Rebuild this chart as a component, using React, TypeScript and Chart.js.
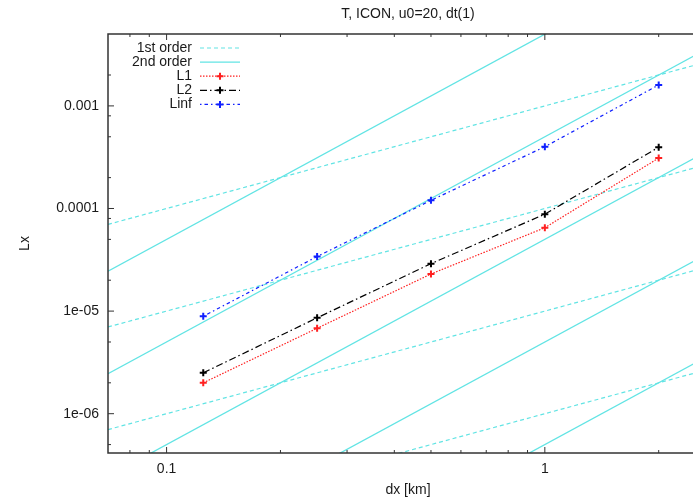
import React, { useEffect, useRef } from "react";
import { Chart, registerables } from "chart.js";

Chart.register(...registerables);

// ---- data ----
const DX = [0.125, 0.25, 0.5, 1, 2];
const L1 = [2.0e-6, 6.8e-6, 2.3e-5, 6.5e-5, 3.1e-4];
const L2 = [2.5e-6, 8.6e-6, 2.9e-5, 8.8e-5, 3.96e-4];
const LINF = [8.9e-6, 3.4e-5, 1.2e-4, 4.0e-4, 1.6e-3];

// reference slopes: c * dx^order
const FIRST_ORDER_COEFS = [1e-3, 1e-4, 1e-5, 1e-6];
const SECOND_ORDER_COEFS = [5e-3, 5e-4, 5e-5, 5e-6, 5e-7];

const X_RANGE = [0.07, 2.7];
const Y_RANGE = [4.14e-7, 5.02e-3];

const X_MAJOR = [0.1, 1];
const X_MAJOR_LABELS = ["0.1", "1"];
const X_MINOR = [0.08, 0.09, 0.2, 0.3, 0.4, 0.5, 0.6, 0.7, 0.8, 0.9, 2];
const Y_MAJOR = [1e-3, 1e-4, 1e-5, 1e-6];
const Y_MAJOR_LABELS = ["0.001", "0.0001", "1e-05", "1e-06"];
const Y_MINOR = [2e-3, 8e-4, 5e-4, 2e-4, 8e-5, 5e-5, 2e-5, 5e-6, 2e-6, 5e-7];

const TITLE = "T, ICON, u0=20, dt(1)";
const X_TITLE = "dx [km]";
const Y_TITLE = "Lx";

const FONT = '14px "Liberation Sans", Arial, sans-serif';
const CYAN = "#62e4e4";
const TEXT = "#1a1a1a";

const SERIES = [
  { label: "L1", data: L1, color: "#ff2020", dash: [1.5, 1.5] },
  { label: "L2", data: L2, color: "#000000", dash: [7, 3, 1.5, 3] },
  { label: "Linf", data: LINF, color: "#1020ff", dash: [1.5, 3, 3.5, 3] },
];

const LEGEND = [
  { label: "1st order", color: CYAN, dash: [4, 3], marker: false },
  { label: "2nd order", color: CYAN, dash: [], marker: false },
  ...SERIES.map((s) => ({ label: s.label, color: s.color, dash: s.dash, marker: true })),
];

function drawCross(ctx: CanvasRenderingContext2D, x: number, y: number, r: number) {
  ctx.beginPath();
  ctx.moveTo(x - r, y);
  ctx.lineTo(x + r, y);
  ctx.moveTo(x, y - r);
  ctx.lineTo(x, y + r);
  ctx.stroke();
}

const framePlugin = {
  id: "gnuframe",
  afterDatasetsDraw(chart: any) {
    const { ctx, chartArea, scales } = chart;
    const { left, right, top, bottom } = chartArea;
    const xs = scales.x;
    const ys = scales.y;
    ctx.save();
    ctx.setLineDash([]);
    ctx.strokeStyle = "#333";
    ctx.lineWidth = 1.5;
    ctx.strokeRect(left, top, right - left, bottom - top);

    ctx.lineWidth = 1;
    X_MAJOR.forEach((v) => {
      const px = xs.getPixelForValue(v);
      ctx.beginPath();
      ctx.moveTo(px, bottom);
      ctx.lineTo(px, bottom - 6);
      ctx.moveTo(px, top);
      ctx.lineTo(px, top + 6);
      ctx.stroke();
    });
    X_MINOR.forEach((v) => {
      const px = xs.getPixelForValue(v);
      ctx.beginPath();
      ctx.moveTo(px, bottom);
      ctx.lineTo(px, bottom - 3);
      ctx.moveTo(px, top);
      ctx.lineTo(px, top + 3);
      ctx.stroke();
    });
    Y_MAJOR.forEach((v) => {
      const py = ys.getPixelForValue(v);
      ctx.beginPath();
      ctx.moveTo(left, py);
      ctx.lineTo(left + 6, py);
      ctx.moveTo(right, py);
      ctx.lineTo(right - 6, py);
      ctx.stroke();
    });
    Y_MINOR.forEach((v) => {
      const py = ys.getPixelForValue(v);
      ctx.beginPath();
      ctx.moveTo(left, py);
      ctx.lineTo(left + 3, py);
      ctx.moveTo(right, py);
      ctx.lineTo(right - 3, py);
      ctx.stroke();
    });

    ctx.fillStyle = TEXT;
    ctx.font = FONT;
    ctx.textBaseline = "middle";
    ctx.textAlign = "center";
    X_MAJOR.forEach((v, i) => {
      ctx.fillText(X_MAJOR_LABELS[i], xs.getPixelForValue(v), bottom + 16);
    });
    ctx.textAlign = "right";
    Y_MAJOR.forEach((v, i) => {
      ctx.fillText(Y_MAJOR_LABELS[i], left - 9, ys.getPixelForValue(v));
    });

    const cx = (left + right) / 2;
    ctx.textAlign = "center";
    ctx.fillText(TITLE, cx, 14);
    ctx.fillText(X_TITLE, cx, bottom + 37);
    ctx.save();
    ctx.translate(25, (top + bottom) / 2);
    ctx.rotate(-Math.PI / 2);
    ctx.fillText(Y_TITLE, 0, 0);
    ctx.restore();

    // legend
    LEGEND.forEach((item, i) => {
      const yy = top + 14 + i * 14.1;
      ctx.fillStyle = TEXT;
      ctx.textAlign = "right";
      ctx.fillText(item.label, left + 84, yy);
      ctx.strokeStyle = item.color;
      ctx.lineWidth = 1.2;
      ctx.setLineDash(item.dash);
      ctx.beginPath();
      ctx.moveTo(left + 92, yy);
      ctx.lineTo(left + 132, yy);
      ctx.stroke();
      ctx.setLineDash([]);
      if (item.marker) {
        ctx.lineWidth = 2;
        drawCross(ctx, left + 112, yy, 3.5);
      }
    });
    ctx.restore();
  },
};

export default function App() {
  const ref = useRef<HTMLCanvasElement>(null);
  useEffect(() => {
    if (!ref.current) return;
    const guides: any[] = [];
    FIRST_ORDER_COEFS.forEach((c) => {
      guides.push({
        label: "1st order",
        data: X_RANGE.map((x) => ({ x, y: c * x })),
        borderColor: CYAN,
        borderWidth: 1.2,
        borderDash: [4, 3],
        pointRadius: 0,
        showLine: true,
        clip: 0,
      });
    });
    SECOND_ORDER_COEFS.forEach((c) => {
      guides.push({
        label: "2nd order",
        data: X_RANGE.map((x) => ({ x, y: c * x * x })),
        borderColor: CYAN,
        borderWidth: 1.3,
        pointRadius: 0,
        showLine: true,
        clip: 0,
      });
    });
    const series = SERIES.slice()
      .reverse()
      .map((s) => ({
        label: s.label,
        data: DX.map((x, i) => ({ x, y: s.data[i] })),
        borderColor: s.color,
        backgroundColor: s.color,
        borderWidth: 1.2,
        borderDash: s.dash,
        pointStyle: "cross",
        pointRadius: 3.5,
        pointBorderWidth: 2,
        pointBorderColor: s.color,
        showLine: true,
        clip: 0,
      }));
    const chart = new Chart(ref.current, {
      type: "scatter",
      data: { datasets: [...series, ...guides] },
      plugins: [framePlugin],
      options: {
        animation: false,
        responsive: false,
        maintainAspectRatio: false,
        events: [],
        layout: { padding: { left: 108, top: 34, right: 32, bottom: 50 } },
        plugins: { legend: { display: false }, tooltip: { enabled: false }, title: { display: false } },
        scales: {
          x: { type: "logarithmic", min: X_RANGE[0], max: X_RANGE[1], display: false },
          y: { type: "logarithmic", min: Y_RANGE[0], max: Y_RANGE[1], display: false },
        },
      },
    } as any);
    return () => chart.destroy();
  }, []);
  return (
    <div
      style={{
        position: "absolute",
        left: 0,
        top: 0,
        width: 693,
        height: 503,
        overflow: "hidden",
        background: "#fff",
      }}
    >
      <canvas ref={ref} width={740} height={503} style={{ display: "block" }} />
    </div>
  );
}
